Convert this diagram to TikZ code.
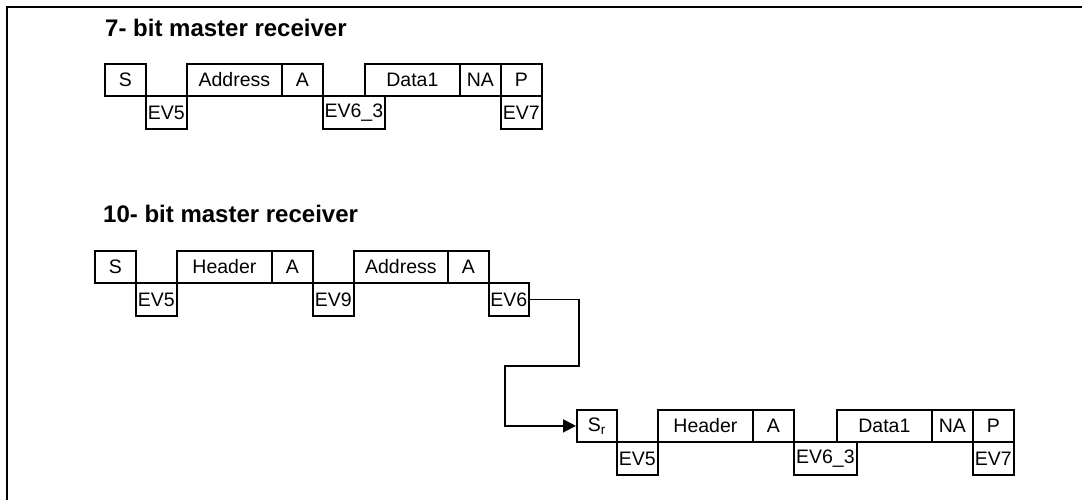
\documentclass[tikz,border=0pt]{standalone}
\usepackage{fontspec}
\setmainfont{Liberation Sans}
\usetikzlibrary{arrows.meta}
\begin{document}
\begin{tikzpicture}[x=1pt,y=-1pt,
  box/.style={draw, line width=1.8pt, inner sep=0pt, minimum height=32pt, anchor=north west, font=\fontsize{19.5}{22}\selectfont},
  evbox/.style={box, minimum height=33pt},
  ttl/.style={anchor=base west, inner sep=0pt, font=\fontsize{24}{28}\selectfont\bfseries},
  conn/.style={line width=1.8pt, -{Triangle[length=13pt,width=13pt]}},
  frame/.style={line width=2.2pt}]
\useasboundingbox (0,0) rectangle (1082,499);
% frame
\coordinate (fbl) at (7,500);
\coordinate (ftl) at (7,7);
\coordinate (ftr) at (1083,7);
\draw[frame] (fbl) -- (ftl) -- (ftr);

% 7-bit
\node[ttl] (t1) at (105,36) {7- bit master receiver};
\node[box, minimum width=41pt] (a1) at (104,63) {S};
\node[evbox, minimum width=41pt] (a2) at (145,95) {EV5};
\node[box, minimum width=95pt] (a3) at (186,63) {Address};
\node[box, minimum width=41pt] (a4) at (281,63) {A};
\node[evbox, minimum width=62pt] (a5) at (322,95) {EV6\_3};
\node[box, minimum width=95pt] (a6) at (364,63) {Data1};
\node[box, minimum width=41pt] (a7) at (459,63) {NA};
\node[box, minimum width=41pt] (a8) at (500,63) {P};
\node[evbox, minimum width=41pt] (a9) at (500,95) {EV7};

% 10-bit
\node[ttl] (t2) at (103,222) {10- bit master receiver};
\node[box, minimum width=41pt] (b1) at (94,250) {S};
\node[evbox, minimum width=41pt] (b2) at (135,282) {EV5};
\node[box, minimum width=95pt] (b3) at (176,250) {Header};
\node[box, minimum width=41pt] (b4) at (271,250) {A};
\node[evbox, minimum width=41pt] (b5) at (312,282) {EV9};
\node[box, minimum width=94pt] (b6) at (353,250) {Address};
\node[box, minimum width=41pt] (b7) at (447,250) {A};
\node[evbox, minimum width=40pt] (b8) at (488,282) {EV6};

\node[box, minimum width=40pt] (c1) at (576,409) {S\textsubscript{r}};
\node[evbox, minimum width=41pt] (c2) at (616,441) {EV5};
\node[box, minimum width=95pt] (c3) at (657,409) {Header};
\node[box, minimum width=41pt] (c4) at (752,409) {A};
\node[evbox, minimum width=63pt] (c5) at (793,441) {EV6\_3};
\node[box, minimum width=95pt] (c6) at (836,409) {Data1};
\node[box, minimum width=41pt] (c7) at (931,409) {NA};
\node[box, minimum width=41pt] (c8) at (972,409) {P};
\node[evbox, minimum width=41pt] (c9) at (972,441) {EV7};

% connector
\coordinate (k1) at (579,366);
\coordinate (k2) at (505,366);
\draw[conn] (b8.east) -| (k1) -- (k2) |- (c1.west);
\end{tikzpicture}
\end{document}
